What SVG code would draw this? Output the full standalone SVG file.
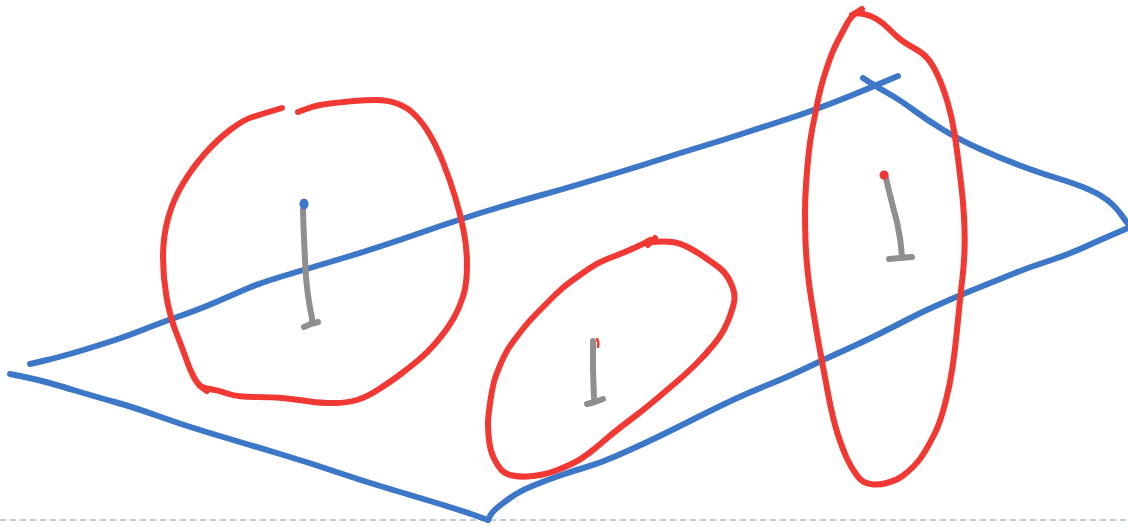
<svg xmlns="http://www.w3.org/2000/svg" width="1128" height="526" viewBox="0 0 1128 526">
<style>
.b{fill:none;stroke:#3d78c8;stroke-width:6;stroke-linecap:round;stroke-linejoin:round}
.r{fill:none;stroke:#f23832;stroke-width:6;stroke-linecap:round;stroke-linejoin:round}
.g{fill:none;stroke:#8f8f8f;stroke-width:6;stroke-linecap:round;stroke-linejoin:round}
.d{fill:none;stroke:#a9bfd5;stroke-width:1.5;stroke-dasharray:6 4}
</style>
<rect width="1128" height="526" fill="#fff"/>
<line class="d" x1="0" y1="520" x2="1128" y2="520"/>
<g id="plane">
<path class="b" d="M30,364 L45,360.5 Q60,357 80,351 Q100,345 115,340 Q130,335 145,329 Q160,323 180,316 Q200,309 215,302.5 Q230,296 245,289.5 Q260,283 280,277 Q300,271 315,266.5 Q330,262 345,257.5 Q360,253 380,246.5 Q400,240 420,233 Q440,226 460,219.5 Q480,213 500,207 Q520,201 540,195.5 Q560,190 580,184 Q600,178 620,172 Q640,166 660,159.5 Q680,153 700,147 Q720,141 740,134.5 Q760,128 780,121.5 Q800,115 815,109.5 Q830,104 845,98 Q860,92 879,84 L898,76"/>
<path class="b" d="M863,78 L870,82.5 Q877,87 888.5,93.5 Q900,100 913.5,110 Q927,120 943.5,130 Q960,140 980,149 Q1000,158 1020,165.5 Q1040,173 1055,177.5 Q1070,182 1081.5,186.5 Q1093,191 1100.5,195.5 Q1108,200 1113,205 Q1118,210 1121.5,215 Q1125,220 1128,224"/>
<path class="b" d="M1128,228 L1114,234 Q1100,240 1083.5,247.5 Q1067,255 1048.5,261 Q1030,267 1015,273 Q1000,279 981.5,286.5 Q963,294 951.5,299 Q940,304 930,308.5 Q920,313 907.5,319.5 Q895,326 881,333 Q867,340 856,345 Q845,350 834,355 Q823,360 811.5,365.5 Q800,371 790,375.5 Q780,380 765,386 Q750,392 735,399 Q720,406 705,413.5 Q690,421 675,428.5 Q660,436 645,443 Q630,450 615,456.5 Q600,463 586.5,467 Q573,471 560,475.5 Q547,480 533.5,485.5 Q520,491 511.5,497 Q503,503 497.5,507.5 Q492,512 490,516 L488,520"/>
<path class="b" d="M10,374 L20,376 Q30,378 40,380.5 Q50,383 75,390.5 Q100,398 116.5,402.5 Q133,407 158,416 Q183,425 208,432.5 Q233,440 246.5,444 Q260,448 285,455.5 Q310,463 335,471.5 Q360,480 385,487.5 Q410,495 435,502.5 Q460,510 474,515 L488,520"/>
</g>
<g id="loop-left">
<path class="r" d="M298,112 L307.5,108.5 Q317,105 330,103.5 Q343,102 354,101 Q365,100 376,100 Q387,100 397,103.5 Q407,107 415,115 Q423,123 430,135 Q437,147 443.5,163.5 Q450,180 455,196.5 Q460,213 463.5,230 Q467,247 467,265 Q467,283 463.5,295 Q460,307 453.5,318.5 Q447,330 437,341.5 Q427,353 418.5,360 Q410,367 401.5,373.5 Q393,380 380,388.5 Q367,397 357,400 Q347,403 333.5,403 Q320,403 310,401.5 Q300,400 286.5,398.5 Q273,397 255,397 Q237,397 227,393.5 Q217,390 210,389 Q203,388 200,385.5 Q197,383 193.5,376.5 Q190,370 186.5,360 Q183,350 176.5,333.5 Q170,317 166.5,297 Q163,277 163,257 Q163,237 168,218.5 Q173,200 183,183.5 Q193,167 205,153.5 Q217,140 230,130 Q243,120 252.5,117 Q262,114 272,111 L282,108"/>
<path class="r" d="M200,386 L207,391"/>
</g>
<g id="stem-left">
<path class="g" d="M303,210 Q304,245 306,277 Q308,300 312,318 L312,322"/>
<path class="g" d="M304,327 L311,324 L318,322"/>
<ellipse cx="304" cy="204" rx="4.5" ry="5.5" fill="#3d78c8"/>
</g>
<g id="loop-middle">
<path class="r" d="M650,242 Q665,241 672.5,242 Q680,243 688.5,247.5 Q697,252 705,257.5 Q713,263 719,267.5 Q725,272 729,279.5 Q733,287 734,292.5 Q735,298 734,302.5 Q733,307 730.5,314.5 Q728,322 724,329.5 Q720,337 712.5,346 Q705,355 696,364 Q687,373 677,381.5 Q667,390 657,398.5 Q647,407 638.5,413.5 Q630,420 621.5,426.5 Q613,433 605,440 Q597,447 588.5,453.5 Q580,460 572.5,463.5 Q565,467 557.5,470 Q550,473 542.5,474.5 Q535,476 527.5,476.5 Q520,477 512.5,475.5 Q505,474 501,469.5 Q497,465 493.5,457.5 Q490,450 489,440 Q488,430 488,423.5 Q488,417 490.5,400 Q493,383 496.5,374 Q500,365 503.5,357.5 Q507,350 512.5,342.5 Q518,335 524,327.5 Q530,320 538.5,311.5 Q547,303 555,295 Q563,287 571.5,281 Q580,275 588.5,269 Q597,263 606,259.5 Q615,256 622.5,253 Q630,250 637.5,246.5 Q645,243 650,240"/>
<path class="r" d="M648,245 L655,238"/>
</g>
<g id="stem-middle">
<path class="g" d="M593,341 L593,370 L594,398"/>
<path class="g" d="M587,404 L595,402 L603,399"/>
<path class="r" d="M597,339 Q599,342 598,347" style="stroke-width:2.5"/>
</g>
<g id="loop-right">
<path class="r" d="M857,13 L863.5,14 Q870,15 876.5,19 Q883,23 888,28 Q893,33 898,37.5 Q903,42 913,47.5 Q923,53 928,59 Q933,65 938,76 Q943,87 947.5,102 Q952,117 954.5,133.5 Q957,150 958.5,162.5 Q960,175 961.5,187.5 Q963,200 964,217.5 Q965,235 964.5,250 Q964,265 962.5,277.5 Q961,290 959.5,305 Q958,320 956.5,335 Q955,350 952.5,367.5 Q950,385 945,404 Q940,423 935,433 Q930,443 925,451.5 Q920,460 914,466 Q908,472 902.5,476 Q897,480 888.5,482.5 Q880,485 874,484.5 Q868,484 864,482 Q860,480 855.5,473.5 Q851,467 847,458.5 Q843,450 838,435 Q833,420 828,393.5 Q823,367 820.5,353.5 Q818,340 815.5,325 Q813,310 811,297.5 Q809,285 807.5,270 Q806,255 805.5,240 Q805,225 805,212.5 Q805,200 806,185 Q807,170 808.5,155 Q810,140 812.5,127.5 Q815,115 817.5,102.5 Q820,90 823,80 Q826,70 829.5,60 Q833,50 837.5,41.5 Q842,33 846,25.5 Q850,18 853.5,15 L857,13"/>
<path class="r" d="M852,15 L862,9"/>
</g>
<g id="stem-right">
<path class="g" d="M885,174 Q891,200 897,222 Q901,240 902,257"/>
<path class="g" d="M889,259 L900,258 L912,257"/>
<circle cx="884" cy="175" r="4.5" fill="#f23832"/>
</g>
</svg>
